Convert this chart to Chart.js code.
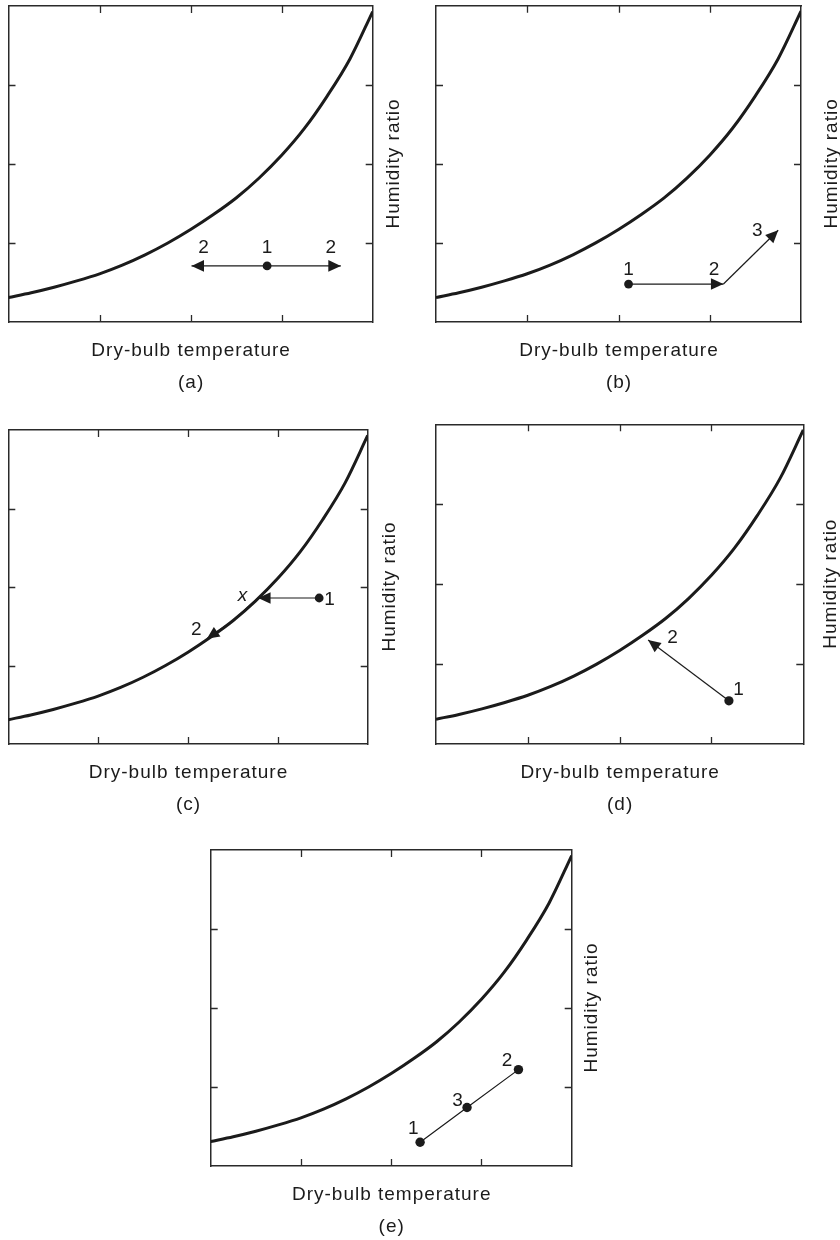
<!DOCTYPE html>
<html>
<head>
<meta charset="utf-8">
<script src="https://cdn.jsdelivr.net/npm/chart.js@4.4.1/dist/chart.umd.min.js"></script>
<style>
  html, body { margin: 0; padding: 0; background: #ffffff; overflow: hidden; }
  #wrap { position: relative; width: 840px; height: 1240px; overflow: hidden; }
  #wrap canvas { position: absolute; }
</style>
</head>
<body>
<div id="wrap"></div>
<script>
// ================= DATA =================
// Saturation curve (same in every panel), axes run 0..4 (arbitrary units)
const curveX = [0, 0.25, 0.5, 0.75, 1, 1.25, 1.5, 1.75, 2, 2.25, 2.5, 2.75, 3, 3.25, 3.5, 3.75, 4];
const curveY = [0.31, 0.37, 0.44, 0.52, 0.61, 0.72, 0.85, 1.00, 1.17, 1.36, 1.57, 1.82, 2.11, 2.45, 2.86, 3.33, 3.93];
const tickValues = [1, 2, 3];
const axisMin = 0, axisMax = 4;
const xAxisTitle = 'Dry-bulb temperature';
const yAxisTitle = 'Humidity ratio';
const panelCaptions = ['(a)', '(b)', '(c)', '(d)', '(e)'];

// (a) sensible heating / cooling
const aDotX = [2.84], aDotY = [0.71];
const aPathX = [[2.84, 2.01], [2.84, 3.65]];
const aPathY = [[0.71, 0.71], [0.71, 0.71]];
const aPathArrow = [true, true];
const aLabelText = ['2', '1', '2'];
const aLabelX = [2.01, 2.84, 3.65];
const aLabelY = [0.71, 0.71, 0.71];

// (b) heating then humidifying
const bDotX = [2.11], bDotY = [0.48];
const bPathX = [[2.11, 3.15], [3.15, 3.75]];
const bPathY = [[0.48, 0.48], [0.48, 1.16]];
const bPathArrow = [true, true];
const bLabelText = ['1', '2', '3'];
const bLabelX = [2.11, 3.15, 3.75];
const bLabelY = [0.48, 0.48, 1.16];

// (c) cooling with dehumidification
const cDotX = [3.46], cDotY = [1.86];
const cPathX = [[3.46, 2.78], [2.78, 2.5, 2.21]];
const cPathY = [[1.86, 1.86], [1.86, 1.57, 1.34]];
const cPathArrow = [true, true];
const cLabelText = ['x', '1', '2'];
const cLabelX = [2.78, 3.46, 2.21];
const cLabelY = [1.86, 1.86, 1.34];

// (d) evaporative cooling
const dDotX = [3.19], dDotY = [0.54];
const dPathX = [[3.19, 2.31]];
const dPathY = [[0.54, 1.30]];
const dPathArrow = [true];
const dLabelText = ['2', '1'];
const dLabelX = [2.31, 3.19];
const dLabelY = [1.30, 0.54];

// (e) adiabatic mixing
const eDotX = [2.32, 2.84, 3.41], eDotY = [0.30, 0.74, 1.22];
const ePathX = [[2.32, 2.84, 3.41]];
const ePathY = [[0.30, 0.74, 1.22]];
const ePathArrow = [false];
const eLabelText = ['1', '3', '2'];
const eLabelX = [2.32, 2.84, 3.41];
const eLabelY = [0.30, 0.74, 1.22];

// ================= STYLE / LAYOUT =================
const INK = '#1b1b1b';
const FRAME = '#2a2a2a';
const FONT_FAMILY = '"Liberation Sans", Arial, Helvetica, sans-serif';
const FONT_SIZE = 19;

// chart-area boxes in page pixels + per-panel text offsets
const boxes = [
  { l: 8.5, t: 6,     r: 372.7, b: 322,  yTitleOff: 26.6, dotR: 4.4 },
  { l: 436, t: 5.7,   r: 801,   b: 322,  yTitleOff: 35.7, dotR: 4.4 },
  { l: 8.3, t: 430,   r: 367.7, b: 744,  yTitleOff: 27.3, dotR: 4.4 },
  { l: 436, t: 424.3, r: 803.3, b: 744,  yTitleOff: 32.7, dotR: 4.6 },
  { l: 210.7, t: 850, r: 571.7, b: 1166, yTitleOff: 25.6, dotR: 4.7 }
];
// label offsets (pixels) relative to the labelled state point: centre-x, baseline-y
const aLabelDx = [12, 0, -10],       aLabelDy = [-13, -13, -13];
const bLabelDx = [0, -9.5, -21],     bLabelDy = [-9, -9, 6];
const cLabelDx = [-15.6, 10.3, -10.5], cLabelDy = [3, 7, -4.3];
const dLabelDx = [24.5, 9.5],        dLabelDy = [3.3, -6];
const eLabelDx = [-6.7, -9.5, -11.5], eLabelDy = [-8.3, -2, -3.6];
const xTitleBaseline = 33.5;   // below chart-area bottom
const captionBaseline = 66;    // below chart-area bottom

const panels = [
  { dotX: aDotX, dotY: aDotY, pathX: aPathX, pathY: aPathY, arrows: aPathArrow,
    lt: aLabelText, lx: aLabelX, ly: aLabelY, ldx: aLabelDx, ldy: aLabelDy },
  { dotX: bDotX, dotY: bDotY, pathX: bPathX, pathY: bPathY, arrows: bPathArrow,
    lt: bLabelText, lx: bLabelX, ly: bLabelY, ldx: bLabelDx, ldy: bLabelDy },
  { dotX: cDotX, dotY: cDotY, pathX: cPathX, pathY: cPathY, arrows: cPathArrow,
    lt: cLabelText, lx: cLabelX, ly: cLabelY, ldx: cLabelDx, ldy: cLabelDy },
  { dotX: dDotX, dotY: dDotY, pathX: dPathX, pathY: dPathY, arrows: dPathArrow,
    lt: dLabelText, lx: dLabelX, ly: dLabelY, ldx: dLabelDx, ldy: dLabelDy },
  { dotX: eDotX, dotY: eDotY, pathX: ePathX, pathY: ePathY, arrows: ePathArrow,
    lt: eLabelText, lx: eLabelX, ly: eLabelY, ldx: eLabelDx, ldy: eLabelDy }
];

// ================= PLUGIN: inward ticks, arrowheads, texts =================
const decoPlugin = {
  id: 'deco',
  afterDatasetsDraw(chart) {
    const ctx = chart.ctx;
    const ca = chart.chartArea;
    const xs = chart.scales.x, ys = chart.scales.y;

    // arrowheads at ends of flagged process lines
    chart.data.datasets.forEach((ds, i) => {
      if (!ds.arrowEnd) return;
      const pts = chart.getDatasetMeta(i).data;
      const p0 = pts[pts.length - 2], p1 = pts[pts.length - 1];
      const ang = Math.atan2(p1.y - p0.y, p1.x - p0.x);
      const L = 12.5, W = 5.8;
      ctx.save();
      ctx.translate(p1.x, p1.y);
      ctx.rotate(ang);
      ctx.beginPath();
      ctx.moveTo(0, 0);
      ctx.lineTo(-L, -W);
      ctx.lineTo(-L, W);
      ctx.closePath();
      ctx.fillStyle = INK;
      ctx.fill();
      ctx.restore();
    });

    // inward tick marks on all four sides
    ctx.save();
    ctx.strokeStyle = FRAME;
    ctx.lineWidth = 1.3;
    const tl = 7;
    ctx.beginPath();
    tickValues.forEach(v => {
      const px = Math.round(xs.getPixelForValue(v)) + 0.5;
      ctx.moveTo(px, ca.bottom); ctx.lineTo(px, ca.bottom - tl);
      ctx.moveTo(px, ca.top); ctx.lineTo(px, ca.top + tl);
      const py = Math.round(ys.getPixelForValue(v)) + 0.5;
      ctx.moveTo(ca.left, py); ctx.lineTo(ca.left + tl, py);
      ctx.moveTo(ca.right, py); ctx.lineTo(ca.right - tl, py);
    });
    ctx.stroke();
    ctx.restore();
  },
  afterDraw(chart) {
    const ctx = chart.ctx;
    const ca = chart.chartArea;
    const xs = chart.scales.x, ys = chart.scales.y;
    const o = chart.options.plugins.deco;
    const p = o.panel;
    const cx = (ca.left + ca.right) / 2;

    ctx.save();
    ctx.fillStyle = INK;
    ctx.textBaseline = 'alphabetic';
    ctx.textAlign = 'center';

    // state labels
    ctx.letterSpacing = '0px';
    p.lt.forEach((t, i) => {
      ctx.font = (t === 'x' ? 'italic ' : '') + FONT_SIZE + 'px ' + FONT_FAMILY;
      const x = xs.getPixelForValue(p.lx[i]) + p.ldx[i];
      const y = ys.getPixelForValue(p.ly[i]) + p.ldy[i];
      ctx.fillText(t, x, y);
    });

    // axis titles and caption
    ctx.font = FONT_SIZE + 'px ' + FONT_FAMILY;
    ctx.letterSpacing = '1px';
    ctx.fillText(xAxisTitle, cx + 0.5, ca.bottom + xTitleBaseline);
    ctx.fillText(o.caption, cx + 0.5, ca.bottom + captionBaseline);

    ctx.translate(ca.right + o.yTitleOff, (ca.top + ca.bottom) / 2);
    ctx.rotate(-Math.PI / 2);
    ctx.fillText(yAxisTitle, 0.5, 0);
    ctx.restore();
  }
};

// ================= BUILD CHARTS =================
const wrap = document.getElementById('wrap');

function hiddenAxis(pos) {
  return {
    type: 'linear', position: pos, min: axisMin, max: axisMax,
    display: true,
    ticks: { display: false },
    grid: { display: false, drawTicks: false, drawOnChartArea: false },
    border: { display: true, color: FRAME, width: 1.5 },
    title: { display: false }
  };
}

panels.forEach((p, k) => {
  const bx = boxes[k];
  const cl = Math.floor(bx.l) - 8;
  const ct = Math.floor(bx.t) - 5;
  const cr = Math.min(840, Math.ceil(bx.r + 45));
  const cb = Math.ceil(bx.b + 80);
  const W = cr - cl, H = cb - ct;

  const cv = document.createElement('canvas');
  cv.width = W; cv.height = H;
  cv.style.left = cl + 'px'; cv.style.top = ct + 'px';
  cv.style.width = W + 'px'; cv.style.height = H + 'px';
  wrap.appendChild(cv);

  const datasets = [];
  datasets.push({
    label: 'state points',
    data: p.dotX.map((x, i) => ({ x: x, y: p.dotY[i] })),
    showLine: false,
    pointRadius: bx.dotR,
    pointBackgroundColor: INK,
    pointBorderWidth: 0,
    pointHoverRadius: bx.dotR
  });
  p.pathX.forEach((px, j) => {
    datasets.push({
      label: 'process ' + (j + 1),
      data: px.map((x, i) => ({ x: x, y: p.pathY[j][i] })),
      showLine: true,
      borderColor: INK,
      borderWidth: 1.2,
      pointRadius: 0,
      fill: false,
      tension: 0,
      arrowEnd: p.arrows[j]
    });
  });
  datasets.push({
    label: 'saturation curve',
    data: curveX.map((x, i) => ({ x: x, y: curveY[i] })),
    showLine: true,
    borderColor: INK,
    borderWidth: 3,
    pointRadius: 0,
    fill: false,
    cubicInterpolationMode: 'monotone'
  });

  new Chart(cv, {
    type: 'scatter',
    data: { datasets: datasets },
    options: {
      responsive: false,
      animation: false,
      events: [],
      devicePixelRatio: window.devicePixelRatio || 1,
      layout: {
        padding: {
          left: bx.l - cl,
          top: bx.t - ct,
          right: W - (bx.r - cl),
          bottom: H - (bx.b - ct)
        }
      },
      scales: {
        x: hiddenAxis('bottom'),
        y: hiddenAxis('left'),
        x2: hiddenAxis('top'),
        y2: hiddenAxis('right')
      },
      plugins: {
        legend: { display: false },
        tooltip: { enabled: false },
        title: { display: false },
        deco: { panel: p, caption: panelCaptions[k], yTitleOff: bx.yTitleOff }
      }
    },
    plugins: [decoPlugin]
  });
});
</script>
</body>
</html>
